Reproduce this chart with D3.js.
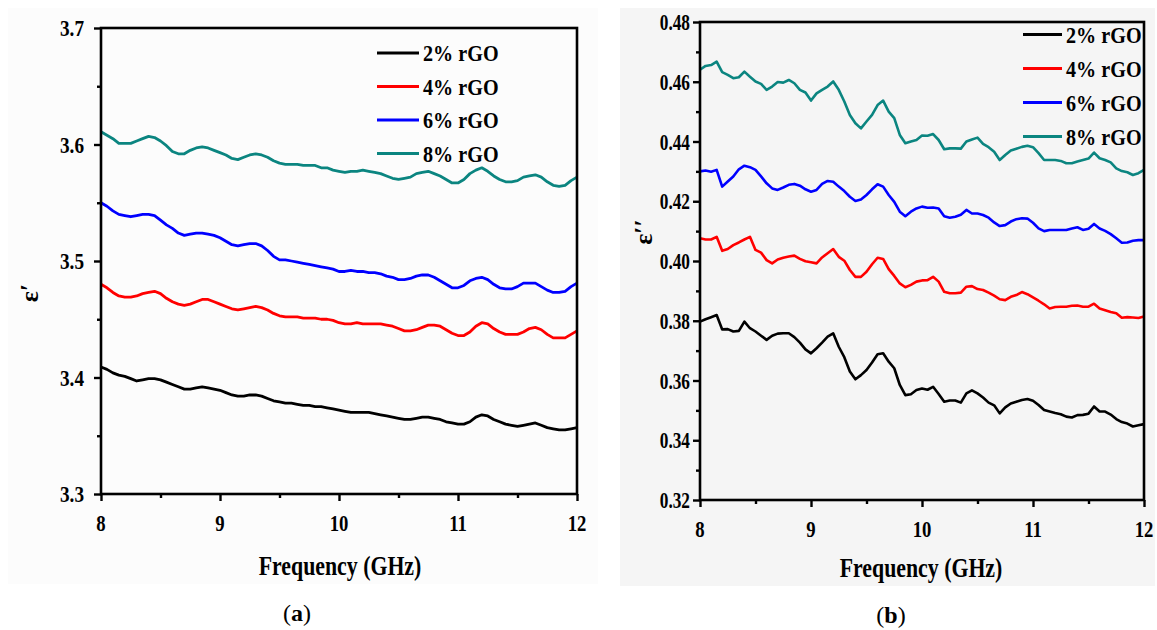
<!DOCTYPE html>
<html><head><meta charset="utf-8">
<script src="https://cdnjs.cloudflare.com/ajax/libs/d3/7.8.5/d3.min.js"></script>
<style>
html,body{margin:0;padding:0;background:#fff;}
svg{display:block;}
text{font-family:"Liberation Serif";}
</style></head>
<body><svg id="chart" width="1157" height="630"></svg>
<script>
// ---------------- DATA ----------------
const freq = d3.range(0, 81).map(i => 8 + i * 0.05); // 8.00 .. 12.00 GHz, 0.05 step
const seriesNames = ["2% rGO", "4% rGO", "6% rGO", "8% rGO"];
const seriesColors = ["#000000", "#ff0000", "#0000ff", "#0b8580"];

// Panel (a): real permittivity ε'
const epsReal2 = [3.409,3.407,3.404,3.402,3.401,3.399,3.397,3.398,3.399,3.399,3.398,3.396,3.394,3.392,3.390,3.390,3.391,3.392,3.391,3.390,3.389,3.387,3.385,3.384,3.384,3.385,3.385,3.384,3.382,3.380,3.379,3.378,3.378,3.377,3.376,3.376,3.375,3.375,3.374,3.373,3.372,3.371,3.370,3.370,3.370,3.370,3.369,3.368,3.367,3.366,3.365,3.364,3.364,3.365,3.366,3.366,3.365,3.364,3.362,3.361,3.360,3.360,3.362,3.366,3.368,3.367,3.364,3.362,3.360,3.359,3.358,3.359,3.360,3.361,3.359,3.357,3.356,3.355,3.355,3.356,3.357];
const epsReal4 = [3.480,3.477,3.473,3.470,3.469,3.469,3.470,3.472,3.473,3.474,3.472,3.468,3.465,3.463,3.462,3.463,3.465,3.467,3.467,3.465,3.463,3.461,3.459,3.458,3.459,3.460,3.461,3.460,3.458,3.455,3.453,3.452,3.452,3.452,3.451,3.451,3.451,3.450,3.450,3.449,3.447,3.446,3.446,3.447,3.446,3.446,3.446,3.446,3.445,3.444,3.442,3.440,3.440,3.441,3.443,3.445,3.445,3.444,3.441,3.438,3.436,3.436,3.439,3.444,3.447,3.446,3.442,3.439,3.437,3.437,3.437,3.439,3.442,3.443,3.441,3.437,3.434,3.434,3.434,3.437,3.440];
const epsReal6 = [3.550,3.547,3.543,3.540,3.539,3.538,3.539,3.540,3.540,3.539,3.535,3.531,3.528,3.524,3.522,3.523,3.524,3.524,3.523,3.522,3.520,3.517,3.514,3.513,3.514,3.515,3.515,3.513,3.509,3.504,3.501,3.501,3.500,3.499,3.498,3.497,3.496,3.495,3.494,3.493,3.491,3.491,3.492,3.491,3.491,3.490,3.490,3.489,3.487,3.486,3.484,3.484,3.485,3.487,3.488,3.488,3.486,3.483,3.480,3.477,3.477,3.479,3.483,3.485,3.486,3.484,3.480,3.477,3.476,3.476,3.478,3.481,3.481,3.481,3.478,3.475,3.473,3.473,3.474,3.478,3.481];
const epsReal8 = [3.611,3.608,3.605,3.601,3.601,3.601,3.603,3.605,3.607,3.606,3.603,3.599,3.594,3.592,3.592,3.595,3.597,3.598,3.597,3.595,3.593,3.591,3.588,3.587,3.589,3.591,3.592,3.591,3.589,3.586,3.584,3.583,3.583,3.583,3.582,3.582,3.582,3.580,3.580,3.578,3.577,3.576,3.577,3.577,3.578,3.577,3.576,3.575,3.573,3.571,3.570,3.571,3.572,3.575,3.576,3.577,3.575,3.573,3.570,3.567,3.567,3.570,3.575,3.578,3.580,3.577,3.573,3.570,3.568,3.568,3.569,3.572,3.573,3.574,3.572,3.568,3.565,3.564,3.565,3.569,3.572];

// Panel (b): imaginary permittivity ε''
const epsImag2 = [0.3797,0.3805,0.3812,0.3819,0.3771,0.3772,0.3764,0.3766,0.3797,0.3775,0.3764,0.3750,0.3736,0.3750,0.3757,0.3758,0.3758,0.3745,0.3727,0.3704,0.3691,0.3708,0.3727,0.3747,0.3758,0.3713,0.3678,0.3630,0.3604,0.3618,0.3635,0.3660,0.3688,0.3691,0.3663,0.3641,0.3585,0.3551,0.3554,0.3568,0.3573,0.3569,0.3579,0.3555,0.3529,0.3533,0.3533,0.3526,0.3557,0.3567,0.3557,0.3543,0.3526,0.3517,0.3490,0.3510,0.3523,0.3529,0.3535,0.3538,0.3532,0.3518,0.3501,0.3496,0.3491,0.3487,0.3479,0.3476,0.3484,0.3485,0.3489,0.3513,0.3496,0.3496,0.3486,0.3471,0.3461,0.3456,0.3446,0.3450,0.3454];
const epsImag4 = [0.4076,0.4072,0.4072,0.4081,0.4034,0.4040,0.4053,0.4062,0.4072,0.4081,0.4037,0.4028,0.4003,0.3992,0.4005,0.4011,0.4015,0.4018,0.4007,0.3999,0.3996,0.3992,0.4012,0.4026,0.4040,0.4014,0.4001,0.3970,0.3947,0.3947,0.3964,0.3989,0.4011,0.4007,0.3973,0.3950,0.3925,0.3912,0.3920,0.3931,0.3935,0.3936,0.3947,0.3931,0.3897,0.3892,0.3892,0.3894,0.3914,0.3916,0.3906,0.3903,0.3894,0.3884,0.3872,0.3869,0.3880,0.3886,0.3896,0.3889,0.3878,0.3867,0.3855,0.3841,0.3846,0.3847,0.3847,0.3850,0.3851,0.3847,0.3847,0.3857,0.3841,0.3835,0.3829,0.3825,0.3810,0.3812,0.3811,0.3809,0.3814];
const epsImag6 = [0.4300,0.4303,0.4299,0.4305,0.4249,0.4266,0.4283,0.4307,0.4319,0.4314,0.4305,0.4283,0.4260,0.4243,0.4238,0.4246,0.4255,0.4258,0.4252,0.4240,0.4232,0.4238,0.4258,0.4268,0.4265,0.4249,0.4234,0.4215,0.4201,0.4206,0.4221,0.4240,0.4257,0.4249,0.4221,0.4198,0.4165,0.4150,0.4165,0.4176,0.4182,0.4178,0.4179,0.4176,0.4150,0.4145,0.4148,0.4155,0.4171,0.4159,0.4159,0.4154,0.4145,0.4129,0.4117,0.4120,0.4132,0.4140,0.4143,0.4142,0.4128,0.4109,0.4100,0.4104,0.4104,0.4104,0.4104,0.4109,0.4113,0.4104,0.4108,0.4124,0.4109,0.4101,0.4090,0.4076,0.4061,0.4062,0.4068,0.4070,0.4070];
const epsImag8 = [0.4640,0.4653,0.4656,0.4667,0.4632,0.4623,0.4612,0.4615,0.4634,0.4617,0.4601,0.4593,0.4573,0.4584,0.4599,0.4597,0.4606,0.4595,0.4573,0.4564,0.4537,0.4561,0.4573,0.4584,0.4601,0.4573,0.4534,0.4489,0.4461,0.4444,0.4467,0.4489,0.4522,0.4537,0.4500,0.4478,0.4422,0.4394,0.4400,0.4405,0.4420,0.4419,0.4425,0.4405,0.4374,0.4377,0.4377,0.4376,0.4400,0.4407,0.4413,0.4392,0.4381,0.4366,0.4338,0.4355,0.4370,0.4376,0.4382,0.4386,0.4381,0.4361,0.4338,0.4338,0.4338,0.4335,0.4327,0.4327,0.4333,0.4338,0.4343,0.4363,0.4344,0.4338,0.4330,0.4310,0.4301,0.4297,0.4288,0.4294,0.4305];

const xTicks = [8, 9, 10, 11, 12];
const xMinorTicks = [8.5, 9.5, 10.5, 11.5];
const yTicksA = [3.3, 3.4, 3.5, 3.6, 3.7];
const yMinorA = [3.35, 3.45, 3.55, 3.65];
const yTicksB = [0.32, 0.34, 0.36, 0.38, 0.40, 0.42, 0.44, 0.46, 0.48];
const yMinorB = [0.33, 0.35, 0.37, 0.39, 0.41, 0.43, 0.45, 0.47];

// ---------------- DRAW ----------------
const svg = d3.select("#chart");
const SERIF = "Liberation Serif";

// background panels
svg.append("rect").attr("x", 8).attr("y", 8).attr("width", 590).attr("height", 576).attr("fill", "#fcfcfc");
svg.append("rect").attr("x", 620).attr("y", 8).attr("width", 535).attr("height", 578).attr("fill", "#f5f5f5");

function condText(g, x, y, txt, size, sx, anchor, weight) {
  return g.append("g").attr("transform", `translate(${x},${y}) scale(${sx},1)`)
    .append("text").attr("x", 0).attr("y", 0)
    .attr("text-anchor", anchor).style("font-family", SERIF)
    .attr("font-size", size).attr("font-weight", weight || 700).attr("fill", "#000")
    .text(txt);
}

function drawPanel(p) {
  const g = svg.append("g");
  const x = d3.scaleLinear().domain([8, 12]).range([p.x0, p.x1]);
  const y = d3.scaleLinear().domain(p.yDomain).range([p.y1, p.y0]);

  const line = d3.line().x((d, i) => x(freq[i])).y(d => y(d));
  p.series.forEach((s, i) => {
    g.append("path").datum(s).attr("d", line)
      .attr("fill", "none").attr("stroke", seriesColors[i])
      .attr("stroke-width", p.lw).attr("stroke-linejoin", "round");
  });

  g.append("rect").attr("x", p.x0).attr("y", p.y0)
    .attr("width", p.x1 - p.x0).attr("height", p.y1 - p.y0)
    .attr("fill", "none").attr("stroke", "#000").attr("stroke-width", 2.6);

  const xa = g.append("g").attr("transform", `translate(0,${p.y1})`)
    .call(d3.axisBottom(x).tickValues(xTicks).tickSize(7).tickFormat(""));
  xa.select(".domain").remove();
  xa.selectAll("line").attr("stroke", "#000").attr("stroke-width", 2.4);
  const xm = g.append("g").attr("transform", `translate(0,${p.y1})`)
    .call(d3.axisBottom(x).tickValues(xMinorTicks).tickSize(4).tickFormat(""));
  xm.select(".domain").remove();
  xm.selectAll("line").attr("stroke", "#000").attr("stroke-width", 2.4);
  xTicks.forEach(t => condText(g, x(t), p.y1 + 37, String(t), 24, 0.78, "middle"));

  const ya = g.append("g").attr("transform", `translate(${p.x0},0)`)
    .call(d3.axisLeft(y).tickValues(p.yTicks).tickSize(7).tickFormat(""));
  ya.select(".domain").remove();
  ya.selectAll("line").attr("stroke", "#000").attr("stroke-width", 2.4);
  const ym = g.append("g").attr("transform", `translate(${p.x0},0)`)
    .call(d3.axisLeft(y).tickValues(p.yMinor).tickSize(4).tickFormat(""));
  ym.select(".domain").remove();
  ym.selectAll("line").attr("stroke", "#000").attr("stroke-width", 2.4);
  p.yTicks.forEach(t => condText(g, p.x0 - p.labGap, y(t) + 8, p.fmt(t), 24, p.tsx, "end"));

  condText(g, p.xTitleX, p.xTitleY, "Frequency (GHz)", 28, 0.78, "middle");
  g.append("text").attr("transform", `translate(${p.yTitleX},${p.yTitleY}) rotate(-90)`)
    .attr("text-anchor", "middle").style("font-family", SERIF).attr("font-size", 26)
    .attr("font-weight", 700).text(p.yTitle);

  seriesNames.forEach((n, i) => {
    const ly = p.legY + i * p.legDy;
    g.append("line").attr("x1", p.legX).attr("x2", p.legX + p.legLen)
      .attr("y1", ly).attr("y2", ly).attr("stroke", seriesColors[i]).attr("stroke-width", 3);
    condText(g, p.legX + p.legLen + 4, ly + 8, n, 24, 0.84, "start");
  });

  const lab = svg.append("text").attr("x", p.labX).attr("y", p.labY)
    .attr("text-anchor", "middle").style("font-family", SERIF).attr("font-size", 24).attr("fill", "#000");
  lab.append("tspan").text("(");
  lab.append("tspan").attr("font-weight", 700).text(p.label);
  lab.append("tspan").text(")");
}

drawPanel({
  x0: 101, x1: 577, y0: 28, y1: 494, yDomain: [3.3, 3.7],
  yTicks: yTicksA, yMinor: yMinorA, fmt: d3.format(".1f"), labGap: 17, tsx: 0.8,
  series: [epsReal2, epsReal4, epsReal6, epsReal8], lw: 2.8,
  xTitleX: 340, xTitleY: 575, yTitle: "ε\u2032", yTitleX: 38, yTitleY: 293,
  legX: 377, legY: 53, legDy: 33.5, legLen: 42,
  labX: 297, labY: 621, label: "a"
});
drawPanel({
  x0: 700, x1: 1144, y0: 22, y1: 500, yDomain: [0.32, 0.48],
  yTicks: yTicksB, yMinor: yMinorB, fmt: d3.format(".2f"), labGap: 10, tsx: 0.72,
  series: [epsImag2, epsImag4, epsImag6, epsImag8], lw: 2.6,
  xTitleX: 921, xTitleY: 577, yTitle: "ε\u2032\u2032", yTitleX: 652, yTitleY: 232,
  legX: 1023, legY: 34.5, legDy: 34, legLen: 39,
  labX: 891, labY: 623, label: "b"
});
</script></body></html>
